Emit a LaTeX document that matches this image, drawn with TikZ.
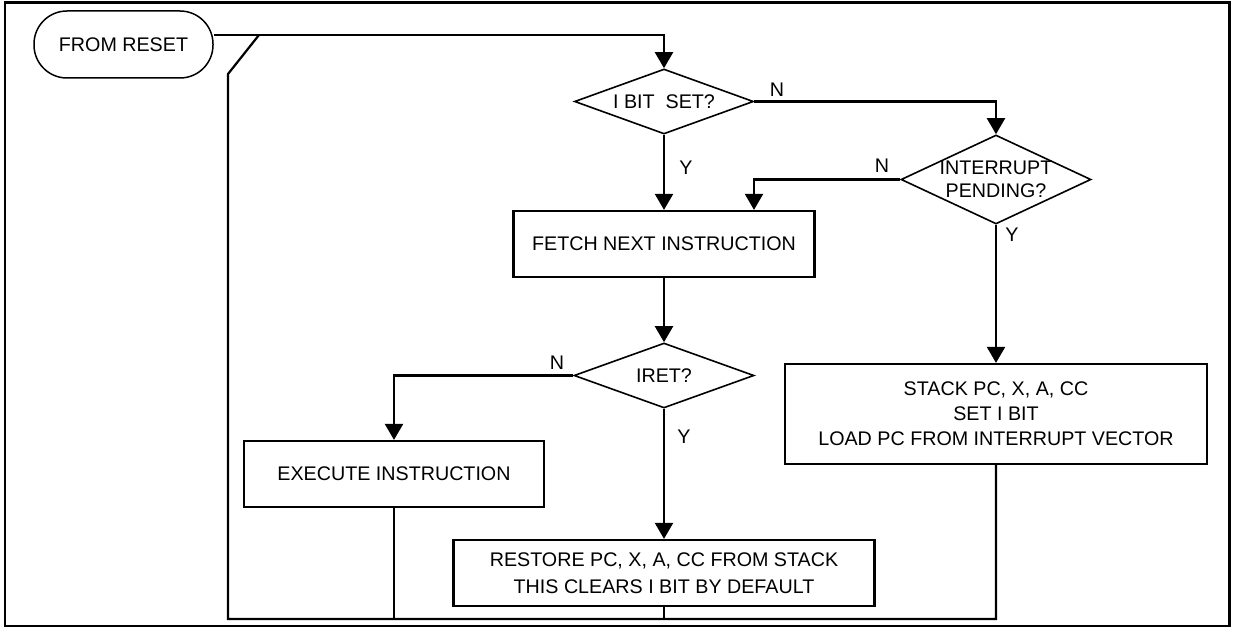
\documentclass[tikz,border=0pt]{standalone}
\usepackage{fontspec}
\setmainfont{Liberation Sans}
\usetikzlibrary{arrows.meta,shapes.geometric}
\begin{document}
\begin{tikzpicture}[x=1pt,y=-1pt,
  font=\fontsize{19.7}{24}\selectfont,
  conn/.style={line width=2.2pt},
  arr/.style={conn,-{Triangle[length=16pt,width=18pt]}},
  boxnode/.style={draw,line width=2.2pt,inner sep=0pt,align=center},
  dia/.style={draw,diamond,line width=1.6pt,inner sep=0pt},
  yn/.style={inner sep=0pt}]
\useasboundingbox (0,0) rectangle (1235,628);
\draw[line width=2.5pt] (5,2.5) rectangle (1229.5,626);

\node[draw,line width=1.5pt,rounded corners=33pt,minimum width=179pt,minimum height=67pt,inner sep=0pt] (reset) at (123.5,44.5) {FROM RESET};
\node[dia,minimum width=179pt,minimum height=65pt,label={center:I BIT\ \ SET?}] (ibit) at (664,101.5) {};
\node[dia,minimum width=190pt,minimum height=89pt,label={[align=center,font=\fontsize{19.7}{22.5}\selectfont]center:INTERRUPT\\PENDING?}] (intp) at (996,179.5) {};
\node[boxnode,minimum width=301pt,minimum height=66pt] (fetch) at (664,244) {FETCH NEXT INSTRUCTION};
\node[dia,minimum width=180pt,minimum height=65pt,label={center:IRET?}] (iret) at (664,375.5) {};
\node[boxnode,minimum width=300pt,minimum height=66pt] (exec) at (394,474) {EXECUTE INSTRUCTION};
\node[boxnode,minimum width=421pt,minimum height=66pt,font=\fontsize{19.7}{27}\selectfont] (restore) at (664,573) {RESTORE PC, X, A, CC FROM STACK\\THIS CLEARS I BIT BY DEFAULT};
\node[boxnode,minimum width=422pt,minimum height=100pt,font=\fontsize{19.7}{25}\selectfont] (stack) at (996,414) {STACK PC, X, A, CC\\SET I BIT\\LOAD PC FROM INTERRUPT VECTOR};

\node[yn] (n1) at (777,90) {N};
\node[yn] (y1) at (686,168) {Y};
\node[yn] (n2) at (882,166) {N};
\node[yn] (y2) at (1012,235) {Y};
\node[yn] (n3) at (557,363) {N};
\node[yn] (y3) at (684,437) {Y};

\coordinate (j) at (259,35);
\coordinate (tl) at (228,74);
\coordinate (bl) at (228,619);

\draw[arr] (reset.east |- j) -| (ibit.north);
\draw[arr] (ibit.east) -| (intp.north);
\draw[arr] (ibit.south) -- (fetch.north);
\draw[arr] (intp.west) -| ([xshift=90pt]fetch.north);
\draw[arr] (intp.south) -- (stack.north);
\draw[arr] (fetch.south) -- (iret.north);
\draw[arr] (iret.west) -| (exec.north);
\draw[arr] (iret.south) -- (restore.north);
\draw[conn] (stack.south) |- (bl) -- (tl) -- (j);
\draw[conn] (exec.south) -- (exec.south |- bl);
\draw[conn] (restore.south) -- (restore.south |- bl);
\end{tikzpicture}
\end{document}
